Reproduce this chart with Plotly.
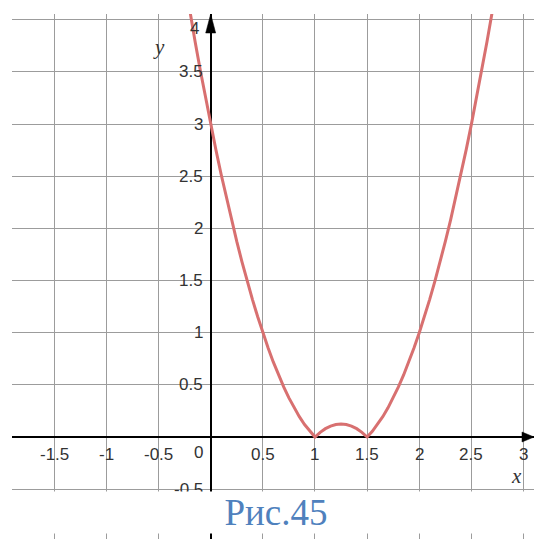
import plotly.graph_objects as go

# Curve points
x_vals = [-0.30, -0.25, -0.20, -0.15, -0.10, -0.05, 0.00, 0.05, 0.10, 0.15, 0.20, 0.25,
          0.30, 0.35, 0.40, 0.45, 0.50, 0.55, 0.60, 0.65, 0.70, 0.75, 0.80, 0.85,
          0.90, 0.95, 1.00, 1.05, 1.10, 1.15, 1.20, 1.25, 1.30, 1.35, 1.40, 1.45,
          1.50, 1.55, 1.60, 1.65, 1.70, 1.75, 1.80, 1.85, 1.90, 1.95, 2.00, 2.05,
          2.10, 2.15, 2.20, 2.25, 2.30, 2.35, 2.40, 2.45, 2.50, 2.55, 2.60, 2.65,
          2.70, 2.75, 2.80]
y_vals = [4.68, 4.375, 4.08, 3.795, 3.52, 3.255, 3.0, 2.755, 2.52, 2.295, 2.08, 1.875,
          1.68, 1.495, 1.32, 1.155, 1.0, 0.855, 0.72, 0.595, 0.48, 0.375, 0.28, 0.195,
          0.12, 0.055, 0.0, 0.045, 0.08, 0.105, 0.12, 0.125, 0.12, 0.105, 0.08, 0.045,
          0.0, 0.055, 0.12, 0.195, 0.28, 0.375, 0.48, 0.595, 0.72, 0.855, 1.0, 1.155,
          1.32, 1.495, 1.68, 1.875, 2.08, 2.295, 2.52, 2.755, 3.0, 3.255, 3.52, 3.795,
          4.08, 4.375, 4.68]

x_ticks = [-1.5, -1, -0.5, 0.5, 1, 1.5, 2, 2.5, 3]
x_tick_labels = ["-1.5", "-1", "-0.5", "0.5", "1", "1.5", "2", "2.5", "3"]
y_ticks = [-1, -0.5, 0.5, 1, 1.5, 2, 2.5, 3, 3.5, 4]
y_tick_labels = ["-1", "-0.5", "0.5", "1", "1.5", "2", "2.5", "3", "3.5", "4"]
caption = "Рис.45"

CURVE = "#d87070"
GRID = "#9c9c9c"
LABEL = "#333333"

fig = go.Figure()
fig.add_trace(go.Scatter(x=x_vals, y=y_vals, mode="lines",
                         line=dict(color=CURVE, width=3), hoverinfo="skip"))

fig.update_layout(
    width=534, height=539,
    margin=dict(l=12, r=0, t=14, b=0),
    paper_bgcolor="white", plot_bgcolor="white",
    showlegend=False,
    xaxis=dict(range=[-1.905, 3.10], dtick=0.5, tick0=0, showgrid=True,
               gridcolor=GRID, gridwidth=1, zeroline=True, zerolinecolor="black",
               zerolinewidth=2, showticklabels=False, showline=False, fixedrange=True),
    yaxis=dict(range=[-0.978, 4.056], dtick=0.5, tick0=0, showgrid=True,
               gridcolor=GRID, gridwidth=1, zeroline=True, zerolinecolor="black",
               zerolinewidth=2, showticklabels=False, showline=False, fixedrange=True),
)

annotations = []
tick_font = dict(family="Liberation Sans, Arial", size=17, color=LABEL)
for v, t in zip(x_ticks, x_tick_labels):
    annotations.append(dict(x=v, y=0, xref="x", yref="y", text=t, showarrow=False,
                            xanchor="center", yanchor="middle", yshift=-17, font=tick_font))
for v, t in zip(y_ticks, y_tick_labels):
    ys = -9 if v == 4 else 0
    xs = -10 if v == 4 else -6
    annotations.append(dict(x=0, y=v, xref="x", yref="y", text=t, showarrow=False,
                            xanchor="right", yanchor="middle", xshift=xs, yshift=ys,
                            font=tick_font))
annotations.append(dict(x=0, y=0, xref="x", yref="y", text="0", showarrow=False,
                        xanchor="right", yanchor="middle", xshift=-6, yshift=-15,
                        font=tick_font))
annotations.append(dict(x=0, y=4, xref="x", yref="y", text="<i>y</i>", showarrow=False,
                        xanchor="center", yanchor="middle", xshift=-52, yshift=-27,
                        font=dict(family="Liberation Serif, Times New Roman", size=21,
                                  color=LABEL)))
annotations.append(dict(x=3, y=0, xref="x", yref="y", text="<i>x</i>", showarrow=False,
                        xanchor="center", yanchor="middle", xshift=-7, yshift=-39,
                        font=dict(family="Liberation Serif, Times New Roman", size=21,
                                  color=LABEL)))
# caption with white band covering the lower part
annotations.append(dict(x=0.631, y=-0.727, xref="x", yref="y", text=caption,
                        showarrow=False, xanchor="center", yanchor="middle",
                        width=514, height=41, bgcolor="white", borderpad=0,
                        font=dict(family="Liberation Serif, Times New Roman", size=37,
                                  color="#4f81bd")))
fig.update_layout(annotations=annotations)

# arrowheads on the axes
fig.add_shape(type="path", xref="x", yref="y", xsizemode="pixel", ysizemode="pixel",
              xanchor=0, yanchor=4.056, path="M -5,-19 L 0,0 L 5,-19 Z",
              fillcolor="black", line=dict(color="black", width=0.5), layer="above")
fig.add_shape(type="path", xref="x", yref="y", xsizemode="pixel", ysizemode="pixel",
              xanchor=3.10, yanchor=0, path="M -12,-5 L 0,0 L -12,5 Z",
              fillcolor="black", line=dict(color="black", width=0.5), layer="above")

fig.write_html("out.html", config={"displayModeBar": False},
               post_script="document.body.style.margin='0';document.body.style.overflow='hidden';")
